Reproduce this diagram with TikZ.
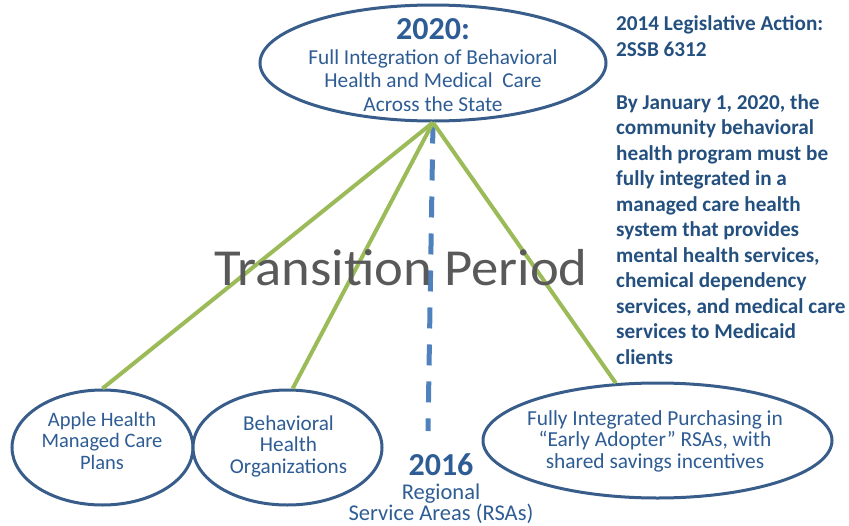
\documentclass[tikz,border=0pt]{standalone}
\usepackage{fontspec}
\setmainfont{Carlito}
\newfontfamily\widefont[FakeStretch=1.05]{Carlito}
\usetikzlibrary{shapes.geometric}

\definecolor{ovalblue}{HTML}{385D8A}
\definecolor{textblue}{HTML}{2E5C94}
\definecolor{boldblue}{HTML}{24507F}
\definecolor{dashblue}{HTML}{4F81BD}
\definecolor{lime}{HTML}{9BBB59}
\definecolor{periodgray}{HTML}{595959}

\begin{document}
\begin{tikzpicture}[x=1pt,y=-1pt,
    oval/.style={ellipse,draw=ovalblue,line width=3pt,fill=white,inner sep=0pt},
    ovaltext/.style={align=center,text=textblue,inner sep=0pt,font=\fontsize{20.5}{21.5}\selectfont},
    branch/.style={draw=lime,line width=4pt},
    dashline/.style={draw=dashblue,line width=5pt,dash pattern=on 21pt off 16pt}]
\useasboundingbox (0,0) rectangle (849,525);

\node[oval,minimum width=346,minimum height=116] (full) at (433,63) {};
\node[oval,minimum width=181,minimum height=115] (ahmc) at (102.5,447.5) {};
\node[oval,minimum width=189,minimum height=115] (bho) at (287.5,447.5) {};
\node[oval,minimum width=349,minimum height=115] (fip) at (657.5,440.5) {};

\coordinate (apex) at (full.south);
\coordinate (dashend) at (428,431);
\draw[dashline] (apex) -- (dashend);
\draw[branch] (apex) -- (ahmc.north);
\draw[branch] (apex) -- (bho.85);
\draw[branch] (apex) -- (fip.126);

\node[ovaltext,font=\fontsize{21.3}{23.5}\selectfont] (fulltext) at (433,65)
    {{\fontsize{32}{32}\selectfont\bfseries 2020:}\\[1pt]Full Integration of Behavioral\\Health and Medical\ \ Care\\Across the State};
\node[ovaltext] (ahmctext) at (102,440.5) {Apple Health\\Managed Care\\Plans};
\node[ovaltext,font=\fontsize{21.2}{21.5}\selectfont] (bhotext) at (288.5,446) {Behavioral\\Health\\Organizations};
\node[ovaltext,font=\fontsize{21.4}{21.5}\selectfont] (fiptext) at (655,441) {Fully Integrated Purchasing in\\``Early Adopter'' RSAs, with\\shared savings incentives};

\node[ovaltext,font=\fontsize{22.5}{21.5}\selectfont] (rsa) at (441,489)
    {{\fontsize{32}{32}\selectfont\bfseries 2016}\\[2pt]Regional\\Service Areas (RSAs)};

\node[anchor=north west,align=left,inner sep=0pt,text=boldblue,font=\fontsize{21.2}{25.5}\selectfont\bfseries] (law) at (616,15.5)
    {2014 Legislative Action:\\2SSB 6312\\[27.5pt]By January 1, 2020, the\\community behavioral\\health program must be\\fully integrated in a\\managed care health\\system that provides\\mental health services,\\chemical dependency\\services, and medical care\\services to Medicaid\\clients};

\node[anchor=base,text=periodgray,inner sep=0pt,font=\widefont\fontsize{52}{52}\selectfont] (period) at (401,285) {Transition Period};
\end{tikzpicture}
\end{document}
